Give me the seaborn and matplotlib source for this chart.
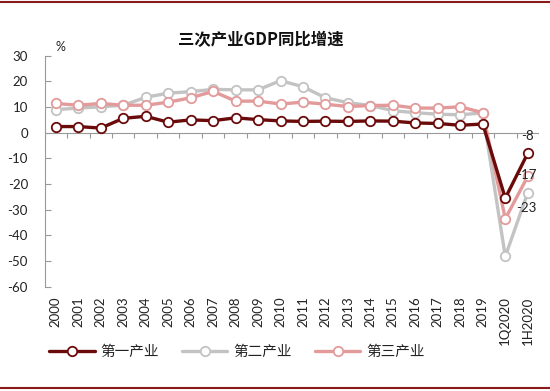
import matplotlib
matplotlib.use("Agg")
import matplotlib.pyplot as plt
from matplotlib.lines import Line2D
import seaborn as sns
import pandas as pd
import numpy as np

categories = ["2000", "2001", "2002", "2003", "2004", "2005", "2006", "2007", "2008", "2009",
              "2010", "2011", "2012", "2013", "2014", "2015", "2016", "2017", "2018", "2019",
              "1Q2020", "1H2020"]
primary = [2.4, 2.4, 1.8, 5.6, 6.4, 4.1, 5.0, 4.7, 5.8, 5.1, 4.6, 4.4, 4.5, 4.4, 4.6, 4.5,
           3.8, 3.6, 2.9, 3.4, -25.5, -8]
secondary = [9.0, 9.6, 10.1, 10.7, 13.8, 15.4, 16.0, 16.9, 16.7, 16.7, 20.3, 17.9, 13.6,
             11.7, 10.6, 8.6, 7.8, 7.2, 7.0, 7.7, -48.2, -23.3]
tertiary = [11.4, 10.7, 11.4, 10.7, 10.7, 11.9, 13.6, 16.1, 12.3, 12.3, 11.2, 11.9, 11.1,
            10.2, 10.6, 10.7, 9.6, 9.6, 10.1, 7.8, -33.5, -17]
series_names = ["第一产业", "第二产业", "第三产业"]
end_labels = ["-8", "-23", "-17"]
title = "三次产业GDP同比增速"
yticks = [30, 20, 10, 0, -10, -20, -30, -40, -50, -60]

colors = ["#6B0A0A", "#C3C3C3", "#E39A9A"]

sns.set_theme(style="white")
plt.rcParams["font.family"] = ["Lato", "Noto Sans CJK SC", "DejaVu Sans"]

fig = plt.figure(figsize=(5.5, 3.91), dpi=100)
ax = fig.add_axes([0.081, 0.2667, 0.899, 0.5908])

df = pd.DataFrame({"pos": np.arange(len(categories)),
                   series_names[0]: primary,
                   series_names[1]: secondary,
                   series_names[2]: tertiary})

zorders = [5, 3, 4]
for name, c, z in zip(series_names, colors, zorders):
    sns.lineplot(data=df, x="pos", y=name, ax=ax, color=c, linewidth=2.4,
                 marker="o", markersize=6.8, markerfacecolor="white",
                 markeredgecolor=c, markeredgewidth=1.3, zorder=z, legend=False)

ax.set_xlim(-0.5, len(categories) - 0.5)
ax.set_ylim(-60, 30)
ax.set_yticks(yticks)
ax.set_yticklabels([str(v) for v in yticks], fontsize=9.5, color="#222222")
ax.set_xticks(np.arange(len(categories)))
ax.set_xticklabels(categories, rotation=90, fontsize=9.5, color="#222222", va="top")
ax.tick_params(axis="x", length=0, pad=7)
ax.tick_params(axis="y", direction="in", length=4, width=0.8, color="#999999", pad=12, left=True)
ax.set_xlabel("")
ax.set_ylabel("")

for s in ["top", "right", "bottom"]:
    ax.spines[s].set_visible(False)
ax.spines["left"].set_color("#999999")
ax.spines["left"].set_linewidth(0.8)

# zero axis line with category-boundary ticks
ax.axhline(0, color="#999999", linewidth=0.8, zorder=1)
bounds = np.arange(len(categories) + 1) - 0.5
ax.vlines(bounds, -1.9, 0, color="#999999", linewidth=0.8, zorder=1)

# end labels
last = len(categories) - 1
ax.annotate(end_labels[0], (last, primary[-1]), xytext=(0, 8), textcoords="offset points",
            ha="center", va="bottom", fontsize=9.5, color="#222222", zorder=6)
ax.annotate(end_labels[2], (last, tertiary[-1]), xytext=(-1, 1), textcoords="offset points",
            ha="center", va="center", fontsize=9.5, color="#222222", zorder=6)
ax.annotate(end_labels[1], (last, secondary[-1]), xytext=(-1, -11), textcoords="offset points",
            ha="center", va="center", fontsize=9.5, color="#222222", zorder=6)

fig.text(60 / 550, 1 - 47 / 391, "%", fontsize=9, ha="center", va="center", color="#222222")
fig.text(261 / 550, 1 - 40 / 391, title, fontsize=11.8, fontweight="bold", ha="center",
         va="center", family=["Noto Sans CJK SC", "DejaVu Sans"], color="#111111")

handles = [Line2D([0], [0], color=c, linewidth=2.4, marker="o", markersize=6.8,
                  markerfacecolor="white", markeredgecolor=c, markeredgewidth=1.3)
           for c in colors]
leg = fig.legend(handles, series_names, loc="center", bbox_to_anchor=(237 / 550, 1 - 352 / 391),
                 ncol=3, frameon=False, handlelength=3.1, columnspacing=1.6, handletextpad=0.4,
                 prop={"family": "Noto Sans CJK SC", "size": 10.5})
for t in leg.get_texts():
    t.set_color("#222222")

fig.add_artist(Line2D([0, 1], [1 - 2 / 391, 1 - 2 / 391], transform=fig.transFigure,
                      color="#8B1A1A", linewidth=1.5))
fig.add_artist(Line2D([0, 1], [3 / 391, 3 / 391], transform=fig.transFigure,
                      color="#8B1A1A", linewidth=1.5))

fig.savefig("out.png", dpi=100)
